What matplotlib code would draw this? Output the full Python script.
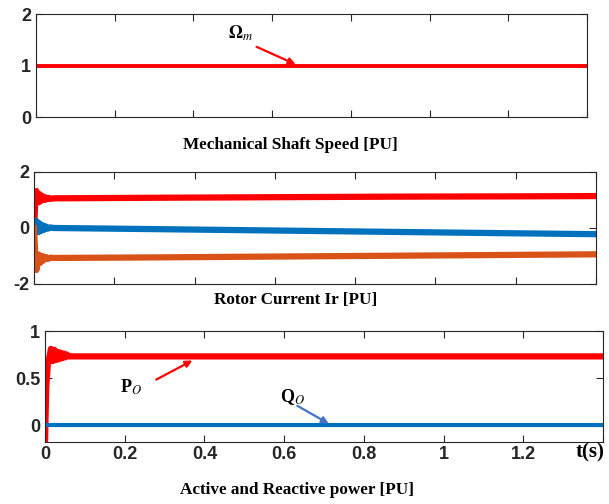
import numpy as np
import matplotlib.pyplot as plt

# time axis (s)
t_speed = [0, 1.4]
speed = [1.0, 1.0]

t_ir = [0, 0.003, 0.006, 0.009, 0.012, 0.015, 0.018, 0.021, 0.024, 0.027,
        0.03, 0.035, 0.04, 0.05, 0.3, 0.6, 0.9, 1.2, 1.4]
ir_a = [0, 0.9, 1.32, 1.15, 0.92, 1.2, 0.97, 1.14, 1.0, 1.1,
        1.02, 1.08, 1.04, 1.06, 1.08, 1.10, 1.12, 1.13, 1.14]
ir_b = [0, 0.2, 0.25, -0.15, 0.18, -0.12, 0.12, -0.08, 0.08, -0.05,
        0.05, -0.02, 0.02, 0.0, -0.04, -0.09, -0.14, -0.19, -0.22]
ir_c = [0, -0.9, -1.5, -1.2, -0.95, -1.25, -1.0, -1.18, -1.02, -1.12,
        -1.04, -1.1, -1.06, -1.07, -1.05, -1.02, -0.99, -0.96, -0.94]

t_p = [0, 0.003, 0.007, 0.011, 0.015, 0.019, 0.023, 0.027, 0.031, 0.035,
       0.039, 0.043, 0.047, 0.051, 0.055, 0.06, 0.07, 1.4]
p_o = [-0.18, 0.4, 0.65, 0.72, 0.81, 0.68, 0.8, 0.69, 0.78, 0.7,
       0.77, 0.71, 0.76, 0.72, 0.75, 0.73, 0.73, 0.73]
t_q = [0, 1.4]
q_o = [0.0, 0.0]

xticks = [0, 0.2, 0.4, 0.6, 0.8, 1.0, 1.2, 1.4]
xticklabels = ['0', '0.2', '0.4', '0.6', '0.8', '1', '1.2', '']

RED = '#FF0000'
BLUE = '#0072BD'
ORANGE = '#D95319'
DARK = '#262626'

plt.rcParams['mathtext.fontset'] = 'stix'
plt.rcParams['axes.unicode_minus'] = False

fig = plt.figure(figsize=(6.09, 5.04), dpi=100)
W, H = 609, 504

def make_ax(l, r, top, bot):
    ax = fig.add_axes([l / W, 1 - bot / H, (r - l) / W, (bot - top) / H])
    ax.set_xlim(0, 1.4)
    ax.set_xticks(xticks)
    ax.tick_params(direction='in', top=True, right=True, length=5,
                   colors=DARK, labelsize=13, width=0.8)
    for s in ax.spines.values():
        s.set_color(DARK)
        s.set_linewidth(0.8)
    return ax

def bold_ticks(ax):
    for lab in ax.get_yticklabels() + ax.get_xticklabels():
        lab.set_fontfamily('Liberation Sans')
        lab.set_fontweight('bold')
        lab.set_color(DARK)

title_kw = dict(fontfamily='Liberation Serif', fontweight='bold', fontsize=12.3,
                ha='center', va='center')

# panel 1
ax1 = make_ax(36, 587, 14, 117)
ax1.plot(t_speed, speed, color=RED, lw=2.8)
ax1.set_ylim(0, 2)
ax1.set_yticks([0, 1, 2])
ax1.set_xticklabels([])
bold_ticks(ax1)
ax1.annotate('', xy=(0.666, 1.0), xytext=(0.554, 1.385),
             arrowprops=dict(arrowstyle='-|>', color=RED, lw=1.6, mutation_scale=10))
ax1.text(0.52, 1.62, r'$\mathbf{\Omega}_m$', fontsize=13, ha='center', va='center')
fig.text(290 / W, 1 - 145 / H, 'Mechanical Shaft Speed [PU]', **title_kw)

# panel 2
ax2 = make_ax(34, 596, 172, 284)
ax2.plot(t_ir, ir_a, color=RED, lw=4.5)
ax2.plot(t_ir, ir_b, color=BLUE, lw=4.5)
ax2.plot(t_ir, ir_c, color=ORANGE, lw=4.5)
ax2.set_ylim(-2, 2)
ax2.set_yticks([-2, 0, 2])
ax2.set_xticklabels([])
bold_ticks(ax2)
fig.text(296 / W, 1 - 300 / H, 'Rotor Current Ir [PU]', **title_kw)

# panel 3
ax3 = make_ax(45, 603, 331, 442)
ax3.plot(t_p, p_o, color=RED, lw=4.5)
ax3.plot(t_q, q_o, color=BLUE, lw=3)
ax3.set_ylim(-0.18, 1)
ax3.set_yticks([0, 0.5, 1])
ax3.set_yticklabels(['0', '0.5', '1'])
ax3.set_xticklabels(xticklabels)
ax3.tick_params(axis='x', pad=3)
bold_ticks(ax3)
ax3.annotate('', xy=(0.376, 0.70), xytext=(0.273, 0.47),
             arrowprops=dict(arrowstyle='-|>', color=RED, lw=1.6, mutation_scale=10))
ax3.text(0.216, 0.40, r'P$_{O}$', fontfamily='Liberation Serif', fontweight='bold',
         fontsize=13, ha='center', va='center')
ax3.annotate('', xy=(0.718, 0.0), xytext=(0.627, 0.22),
             arrowprops=dict(arrowstyle='-|>', color='#4472C4', lw=1.6, mutation_scale=10))
ax3.text(0.622, 0.30, r'Q$_{O}$', fontfamily='Liberation Serif', fontweight='bold',
         fontsize=13, ha='center', va='center')
fig.text(590 / W, 1 - 452 / H, 't(s)', fontfamily='Liberation Serif',
         fontweight='bold', fontsize=15, ha='center', va='center')
fig.text(297 / W, 1 - 490 / H, 'Active and Reactive power [PU]', **title_kw)

fig.savefig('out.png', dpi=100)
